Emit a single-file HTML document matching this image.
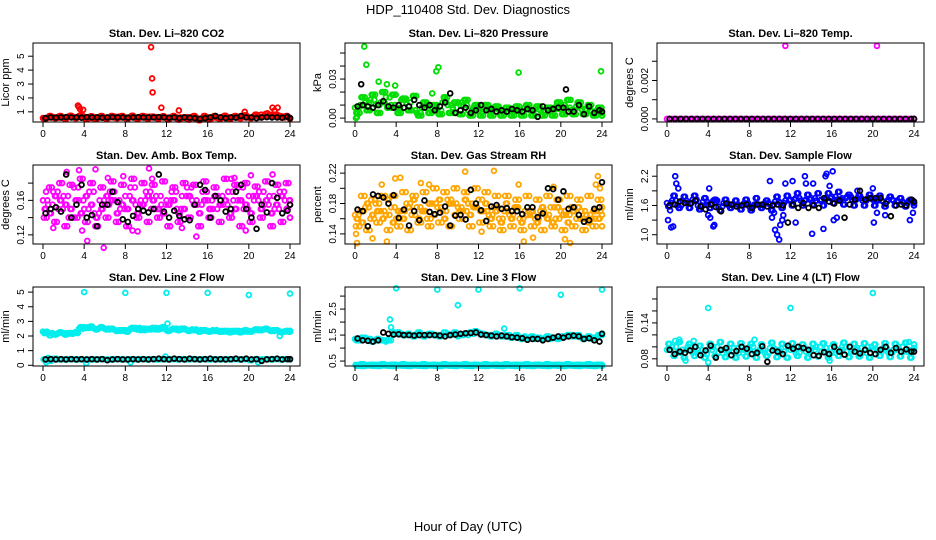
<!DOCTYPE html>
<html><head><meta charset="utf-8"><style>
html,body{margin:0;padding:0;background:#fff}
svg{display:block;font-family:"Liberation Sans",sans-serif}
</style></head><body>
<svg id="chart" width="936" height="540" viewBox="0 0 936 540" xmlns="http://www.w3.org/2000/svg">
<text x="468" y="14" text-anchor="middle" font-size="13">HDP_110408  Std. Dev. Diagnostics</text>
<text x="468" y="531" text-anchor="middle" font-size="13">Hour of Day (UTC)</text>
</svg>
<script>
const xTicks=[0,4,8,12,16,20,24];
// CO2
const co2Red1=[0.55,0.6,0.62,0.58,0.6,0.65,0.6,0.7,0.6,0.55,0.62,0.6,0.58,0.6,0.65,0.6,0.6,0.62,0.58,0.6,0.65,0.6,0.62,0.6,0.58,0.6,0.6,0.55,0.62,0.6,0.5,0.55,0.6,0.58,0.6,0.62,0.6,0.65,0.6,0.62,0.6,0.7,0.65,0.72,0.8,0.7,0.65,0.6,0.55];
const co2Red2=[0.5,0.7,0.55,0.7,0.5,0.72,0.55,0.75,0.5,0.68,0.5,0.7,0.5,0.7,0.55,0.7,0.5,0.72,0.5,0.7,0.5,0.65,0.5,0.68,0.45,0.7,0.45,0.6,0.45,0.7,0.4,0.7,0.45,0.7,0.5,0.72,0.5,0.7,0.55,0.75,0.55,0.8,0.6,0.85,0.7,0.8,0.6,0.7,0.5];
const co2OutX=[3.4,3.5,3.6,3.9,10.5,10.6,10.65,11.5,13.2,19.6,21.2,21.8,22.3,22.5,22.8,23.1];
const co2OutY=[1.45,1.35,1.2,1.15,5.65,3.4,2.4,1.3,1.1,1.0,0.8,0.9,1.3,1.1,1.3,0.7];
const co2Black=[0.55,0.6,0.58,0.6,0.62,0.6,0.6,0.58,0.62,0.6,0.6,0.58,0.6,0.62,0.6,0.6,0.58,0.6,0.62,0.6,0.6,0.6,0.62,0.6,0.58,0.6,0.55,0.6,0.58,0.55,0.5,0.55,0.6,0.7,0.6,0.55,0.6,0.58,0.7,0.6,0.6,0.55,0.6,0.62,0.6,0.6,0.58,0.65,0.55];
// Pressure
const prGreen1=[.008,.01,.012,.014,.01,.012,.016,.01,.008,.014,.012,.006,.004,.008,.01,.008,.006,.012,.01,.008,.012,.01,.006,.008,.005,.007,.006,.008,.006,.005,.007,.006,.005,.008,.006,.007,.006,.005,.008,.007,.01,.008,.006,.009,.007,.006,.005,.006,.004];
const prGreen2=[.004,.016,.006,.018,.004,.02,.008,.018,.004,.015,.006,.017,.002,.012,.004,.01,.003,.016,.004,.012,.003,.014,.002,.01,.002,.01,.002,.009,.002,.008,.002,.009,.002,.01,.002,.009,.002,.008,.002,.012,.003,.014,.003,.012,.003,.01,.002,.008,.002];
const prOutX=[0.2,0.9,1.1,2.3,3.9,4.3,7.9,8.1,15.9,23.9,0.1,3.1,7.5];
const prOutY=[0.001,0.055,0.041,0.028,0.025,0.006,0.036,0.039,0.035,0.036,0.0,0.026,0.019];
const prBlack=[.009,.01,.009,.008,.01,.013,.009,.008,.01,.008,.009,.014,.01,.008,.01,.006,.009,.012,.019,.004,.006,.008,.004,.006,.01,.006,.007,.005,.006,.005,.007,.006,.005,.007,.006,.001,.009,.006,.007,.008,.008,.005,.005,.01,.003,.009,.004,.006,.005];
const prBlackOutX=[0.6,20.5];
const prBlackOutY=[0.026,0.022];
// Li-820 Temp
const tmpMag=[0,0,0,0,0,0,0,0,0,0,0,0,0,0,0,0,0,0,0,0,0,0,0,0,0,0,0,0,0,0,0,0,0,0,0,0,0,0,0,0,0,0,0,0,0,0,0,0,0];
const tmpOutX=[11.5,20.4];
const tmpOutY=[0.0038,0.0038];
const tmpBlack=[0,0,0,0,0,0,0,0,0,0,0,0,0,0,0,0,0,0,0,0,0,0,0,0,0,0,0,0,0,0,0,0,0,0,0,0,0,0,0,0,0,0,0,0,0,0];
// Amb box temp
const ambMag1=[.16,.155,.17,.15,.165,.14,.175,.16,.15,.17,.145,.16,.155,.17,.16,.15,.165,.175,.155,.16,.17,.15,.165,.155,.16,.17,.15,.165,.175,.16,.155,.17,.16,.15,.165,.155,.17,.16,.175,.15,.165,.16,.17,.155,.165,.15,.17,.16,.155];
const ambMag2=[.14,.175,.135,.18,.13,.178,.14,.185,.135,.18,.13,.175,.14,.182,.135,.178,.13,.185,.14,.18,.135,.178,.14,.182,.13,.175,.135,.18,.14,.178,.13,.182,.14,.175,.135,.185,.14,.178,.13,.18,.135,.176,.14,.182,.13,.178,.135,.18,.14];
const ambMag3=[.15,.145,.165,.16,.155,.15,.16,.145,.165,.155,.14,.15,.165,.16,.145,.155,.15,.16,.145,.155,.165,.16,.15,.145,.155,.16,.145,.15,.165,.155,.145,.16,.15,.165,.155,.16,.145,.15,.16,.155,.145,.165,.15,.16,.145,.155,.165,.15,.16];
const ambOutX=[0.3,1,2.3,3.5,4.3,5.1,5.9,7.8,9.2,10.3,14.9,18.3,18.6,20.2,22.3,3.8,6.3,8.7,10.6,13.5,19.7];
const ambOutY=[.17,.128,.193,.195,.113,.196,.105,.188,.124,.197,.118,.185,.186,.189,.19,.125,.186,.125,.185,.128,.125];
const ambBlack=[.145,.15,.152,.147,.19,.14,.155,.178,.14,.143,.13,.155,.155,.17,.158,.138,.135,.142,.15,.148,.146,.15,.19,.147,.14,.148,.142,.138,.137,.155,.178,.172,.14,.165,.16,.147,.15,.17,.178,.15,.14,.127,.155,.146,.18,.163,.145,.148,.155];
// RH
const rhOr1=[.165,.17,.175,.16,.18,.17,.165,.175,.16,.17,.18,.165,.175,.17,.16,.18,.175,.17,.185,.18,.175,.17,.18,.175,.185,.17,.165,.175,.16,.17,.165,.175,.16,.17,.165,.16,.17,.165,.175,.16,.17,.165,.175,.16,.17,.165,.16,.17,.165];
const rhOr2=[.15,.19,.145,.185,.155,.19,.145,.19,.15,.195,.145,.19,.155,.195,.15,.2,.155,.195,.15,.2,.16,.195,.15,.2,.155,.195,.15,.19,.145,.19,.15,.185,.145,.19,.15,.185,.145,.19,.15,.185,.145,.19,.15,.185,.145,.19,.15,.185,.15];
const rhOr3=[.16,.155,.18,.165,.17,.16,.185,.155,.17,.16,.175,.185,.16,.17,.18,.165,.185,.16,.18,.165,.17,.185,.165,.175,.17,.18,.16,.17,.155,.18,.16,.175,.155,.165,.17,.155,.175,.16,.155,.175,.165,.155,.17,.175,.16,.155,.17,.16,.175];
const rhOutX=[0.1,0.2,1.7,2.6,3.1,3.9,4.4,6.4,7.2,10.7,12.3,13.5,15.9,16.4,17.3,19.3,20.4,20.9,23.4,23.6,23.8];
const rhOutY=[.14,.128,.134,.205,.13,.213,.214,.207,.205,.222,.143,.223,.205,.13,.135,.202,.133,.128,.205,.216,.2];
const rhBlack=[.172,.17,.15,.192,.19,.188,.18,.191,.161,.172,.151,.17,.158,.184,.169,.166,.168,.176,.151,.164,.165,.159,.198,.18,.171,.157,.176,.178,.173,.174,.17,.17,.166,.175,.175,.162,.167,.2,.199,.185,.196,.173,.175,.165,.156,.158,.173,.175,.208];
// Sample flow
const sfBlue1=[1.65,1.7,1.6,1.7,1.65,1.72,1.6,1.68,1.62,1.7,1.58,1.65,1.6,1.62,1.6,1.65,1.58,1.62,1.6,1.65,1.62,1.68,1.65,1.7,1.72,1.75,1.7,1.72,1.75,1.7,1.72,1.75,1.78,1.72,1.75,1.78,1.72,1.75,1.7,1.75,1.72,1.7,1.68,1.72,1.7,1.68,1.65,1.7,1.65];
const sfBlue2=[1.58,1.8,1.55,1.78,1.55,1.8,1.52,1.75,1.55,1.72,1.5,1.72,1.55,1.7,1.52,1.72,1.5,1.75,1.55,1.7,1.5,1.78,1.55,1.8,1.6,1.85,1.6,1.82,1.62,1.85,1.6,1.85,1.65,1.88,1.62,1.82,1.6,1.8,1.6,1.82,1.6,1.8,1.58,1.78,1.6,1.75,1.58,1.72,1.6];
const sfOutX=[0.8,0.9,1.1,0.1,0.4,0.6,0.3,4.1,4.5,4.6,4.2,4,10,10.2,10.5,10.7,10.9,11,11.2,11.5,12.2,12.5,13.4,13.5,14.1,14.2,15.2,15.4,15.5,15.8,16.1,16.2,16.5,18.5,20,20.1,20.4,23.6,23.9,11.3,10.4,21.2];
const sfOutY=[2.2,2.05,1.95,1.3,1.15,1.17,1.5,1.95,1.17,1.2,1.35,1.4,2.1,1.35,1.1,1.0,0.9,1.2,1.3,2.05,2.1,1.25,2.2,2.05,1.02,2.05,1.12,2.2,2.25,2.0,2.3,1.3,1.35,1.9,1.95,1.25,1.45,1.3,1.45,1.4,1.45,1.4];
const sfBlack=[1.6,1.62,1.68,1.65,1.64,1.7,1.58,1.52,1.62,1.57,1.48,1.64,1.62,1.58,1.6,1.62,1.55,1.62,1.62,1.58,1.6,1.62,1.6,1.25,1.62,1.55,1.65,1.55,1.6,1.55,1.75,1.68,1.64,1.7,1.35,1.62,1.72,1.9,1.72,1.75,1.75,1.75,1.64,1.38,1.6,1.62,1.6,1.72,1.68];
// Line 2
const l2Cy1=[2.3,2.2,2.15,2.2,2.2,2.15,2.2,2.5,2.6,2.55,2.5,2.55,2.5,2.45,2.4,2.35,2.4,2.5,2.55,2.4,2.5,2.45,2.55,2.5,2.4,2.45,2.5,2.45,2.4,2.45,2.4,2.35,2.35,2.4,2.35,2.3,2.35,2.3,2.35,2.3,2.35,2.4,2.45,2.45,2.4,2.35,2.3,2.3,2.35];
const l2Cy2=[2.2,2.05,2.1,2.25,2.1,2.2,2.25,2.6,2.55,2.65,2.45,2.6,2.45,2.5,2.35,2.4,2.3,2.55,2.45,2.5,2.45,2.55,2.45,2.6,2.35,2.5,2.4,2.5,2.35,2.4,2.3,2.4,2.3,2.35,2.3,2.35,2.25,2.35,2.25,2.4,2.3,2.45,2.4,2.5,2.35,2.4,2.25,2.35,2.3];
const l2Cy3=[0.4,0.3,0.45,0.4,0.4,0.42,0.4,0.4,0.38,0.4,0.4,0.42,0.4,0.4,0.42,0.4,0.4,0.42,0.4,0.42,0.4,0.42,0.4,0.42,0.4,0.42,0.4,0.42,0.4,0.42,0.4,0.42,0.4,0.42,0.4,0.42,0.4,0.42,0.4,0.42,0.35,0.42,0.4,0.42,0.4,0.42,0.4,0.42,0.4];
const l2OutX=[4,8,12,16,20,24,0.3,0.5,12.1,4.2,8.5,11.9,20.9,23];
const l2OutY=[5,4.95,4.95,4.95,4.8,4.9,0.2,0.5,2.85,0.15,0.2,0.6,0.2,2.0];
const l2Black=[0.4,0.42,0.4,0.42,0.4,0.42,0.4,0.42,0.4,0.42,0.4,0.42,0.35,0.4,0.42,0.4,0.4,0.42,0.4,0.42,0.4,0.42,0.45,0.42,0.4,0.45,0.42,0.4,0.45,0.42,0.4,0.42,0.45,0.4,0.42,0.4,0.42,0.45,0.4,0.45,0.4,0.42,0.3,0.4,0.42,0.45,0.4,0.42,0.42];
// Line 3
const l3Cy1=[1.35,1.3,1.4,1.35,1.3,1.3,1.25,1.3,1.55,1.55,1.5,1.5,1.55,1.5,1.5,1.55,1.5,1.5,1.55,1.55,1.45,1.5,1.5,1.55,1.6,1.55,1.5,1.5,1.5,1.45,1.5,1.45,1.4,1.45,1.4,1.35,1.4,1.4,1.35,1.4,1.4,1.45,1.5,1.45,1.4,1.4,1.35,1.4,1.5];
const l3Cy2=[1.3,1.4,1.35,1.25,1.35,1.3,1.3,1.6,1.6,1.5,1.55,1.45,1.6,1.45,1.55,1.5,1.45,1.6,1.5,1.6,1.5,1.55,1.6,1.65,1.55,1.5,1.45,1.55,1.45,1.5,1.4,1.5,1.35,1.4,1.45,1.4,1.35,1.45,1.4,1.35,1.45,1.5,1.45,1.5,1.35,1.45,1.4,1.5,1.55];
const l3Cy3=[0.35,0.38,0.35,0.36,0.35,0.38,0.35,0.36,0.35,0.38,0.35,0.36,0.35,0.38,0.35,0.36,0.35,0.38,0.35,0.36,0.35,0.38,0.35,0.36,0.35,0.38,0.35,0.36,0.35,0.38,0.35,0.36,0.35,0.38,0.35,0.36,0.35,0.38,0.35,0.36,0.35,0.38,0.35,0.36,0.35,0.38,0.35,0.36,0.35];
const l3Cy4=[0.32,0.31,0.33,0.32,0.31,0.33,0.32,0.31,0.33,0.32,0.31,0.33,0.32,0.31,0.33,0.32,0.31,0.33,0.32,0.31,0.33,0.32,0.31,0.33,0.32,0.31,0.33,0.32,0.31,0.33,0.32,0.31,0.33,0.32,0.31,0.33,0.32,0.31,0.33,0.32,0.31,0.33,0.32,0.31,0.33,0.32,0.31,0.33,0.32];
const l3OutX=[4,8,12,16,20,24,10,3.4,3.5,14.5];
const l3OutY=[3.3,3.25,3.25,3.3,3.05,3.25,2.65,2.1,1.8,1.75];
const l3Black=[1.37,1.3,1.28,1.25,1.3,1.6,1.55,1.52,1.53,1.5,1.5,1.48,1.5,1.5,1.5,1.5,1.48,1.45,1.5,1.52,1.55,1.57,1.58,1.6,1.52,1.5,1.48,1.45,1.48,1.45,1.42,1.4,1.38,1.32,1.35,1.35,1.3,1.35,1.4,1.45,1.4,1.45,1.48,1.45,1.35,1.38,1.3,1.25,1.55];
// Line 4
const l4Cy1=[.095,.1,.09,.095,.1,.09,.095,.088,.095,.1,.09,.095,.092,.098,.09,.095,.1,.092,.095,.09,.098,.095,.092,.1,.095,.09,.098,.092,.095,.1,.092,.098,.09,.095,.1,.092,.095,.098,.09,.1,.095,.092,.098,.09,.095,.1,.092,.095,.098];
const l4Cy2=[.105,.085,.108,.082,.105,.085,.102,.082,.105,.085,.108,.083,.105,.082,.106,.084,.105,.082,.104,.085,.107,.083,.105,.082,.106,.085,.104,.082,.105,.084,.106,.082,.104,.085,.107,.083,.105,.084,.106,.082,.104,.085,.106,.083,.105,.084,.107,.082,.104];
const l4OutX=[4,12,20,0.8,1.2,2.6,8.5,1.8,4,15.8,23.5];
const l4OutY=[.165,.165,.19,.11,.112,.11,.112,.077,.074,.077,.108];
const l4Black=[.095,.088,.092,.09,.094,.1,.086,.094,.102,.082,.095,.098,.086,.093,.1,.097,.088,.09,.101,.075,.094,.092,.088,.102,.097,.1,.098,.095,.086,.085,.091,.088,.1,.092,.087,.1,.092,.089,.095,.09,.088,.095,.1,.09,.098,.092,.096,.092,.092];

const NS='http://www.w3.org/2000/svg';
const svg=document.getElementById('chart');
function mk(tag,attrs,parent){const e=document.createElementNS(NS,tag);for(const k in attrs)e.setAttribute(k,attrs[k]);(parent||svg).appendChild(e);return e;}
function seqHours(n){const h=[];for(let i=0;i<n;i++)h.push(i*24/(n-1));return h;}

const panels=[
 {slug:'co2',title:'Stan. Dev. Li\u2013820 CO2',ylab:'Licor ppm',ylim:[0.27,5.95],ticks:[1,2,3,4,5],labels:[[1,'1'],[2,'2'],[3,'3'],[4,'4'],[5,'5']],col:'#ff0000',
  series:[[co2Red1,0],[co2Red2,0.25],[co2Red2,0.5],[co2Red1,0.75]],out:[co2OutX,co2OutY],black:co2Black},
 {slug:'pressure',title:'Stan. Dev. Li\u2013820 Pressure',ylab:'kPa',ylim:[-0.003,0.0577],ticks:[0,.01,.02,.03,.04,.05],labels:[[0,'0.00'],[.03,'0.03']],col:'#00dd00',
  series:[[prGreen1,0],[prGreen2,0.25],[prGreen2,0.5],[prGreen1,0.75],[prGreen2,0.9]],out:[prOutX,prOutY],black:prBlack,bout:[prBlackOutX,prBlackOutY]},
 {slug:'li820-temp',title:'Stan. Dev. Li\u2013820 Temp.',ylab:'degrees C',ylim:[-0.00016,0.00395],ticks:[0,.001,.002,.003],labels:[[0,'0.000'],[.002,'0.002']],col:'#ff00ff',
  series:[[tmpMag,0],[tmpMag,0.5]],out:[tmpOutX,tmpOutY],black:tmpBlack},
 {slug:'amb-box-temp',title:'Stan. Dev. Amb. Box Temp.',ylab:'degrees C',ylim:[0.1094,0.201],ticks:[.12,.14,.16,.18],labels:[[.12,'0.12'],[.16,'0.16']],col:'#ff00ff',
  series:[[ambMag1,0],[ambMag2,0.17],[ambMag3,0.33],[ambMag3,0.55],[ambMag2,0.7],[ambMag1,0.85]],out:[ambOutX,ambOutY],black:ambBlack},
 {slug:'gas-stream-rh',title:'Stan. Dev. Gas Stream RH',ylab:'percent',ylim:[0.1267,0.2307],ticks:[.14,.16,.18,.2,.22],labels:[[.14,'0.14'],[.18,'0.18'],[.22,'0.22']],col:'#ffa500',
  series:[[rhOr1,0],[rhOr2,0.17],[rhOr3,0.33],[rhOr3,0.55],[rhOr1,0.7],[rhOr2,0.85]],out:[rhOutX,rhOutY],black:rhBlack},
 {slug:'sample-flow',title:'Stan. Dev. Sample Flow',ylab:'ml/min',ylim:[0.81,2.43],ticks:[1.0,1.3,1.6,1.9,2.2],labels:[[1.0,'1.0'],[1.6,'1.6'],[2.2,'2.2']],col:'#0000ff',
  series:[[sfBlue1,0],[sfBlue2,0.25],[sfBlue2,0.5],[sfBlue1,0.75]],out:[sfOutX,sfOutY],black:sfBlack},
 {slug:'line2-flow',title:'Stan. Dev. Line 2 Flow',ylab:'ml/min',ylim:[-0.05,5.35],ticks:[0,1,2,3,4,5],labels:[[0,'0'],[1,'1'],[2,'2'],[3,'3'],[4,'4'],[5,'5']],col:'#00eeee',
  series:[[l2Cy1,0],[l2Cy2,0.25],[l2Cy3,0.12],[l2Cy2,0.5],[l2Cy1,0.75],[l2Cy3,0.6]],out:[l2OutX,l2OutY],black:l2Black},
 {slug:'line3-flow',title:'Stan. Dev. Line 3 Flow',ylab:'ml/min',ylim:[0.31,3.35],ticks:[.5,1,1.5,2,2.5,3],labels:[[.5,'0.5'],[1.5,'1.5'],[2.5,'2.5']],col:'#00eeee',
  series:[[l3Cy1,0],[l3Cy2,0.25],[l3Cy3,0.12],[l3Cy4,0.37],[l3Cy3,0.62],[l3Cy4,0.87],[l3Cy2,0.6]],out:[l3OutX,l3OutY],black:l3Black},
 {slug:'line4-flow',title:'Stan. Dev. Line 4 (LT) Flow',ylab:'ml/min',ylim:[0.068,0.2],ticks:[.08,.1,.12,.14,.16,.18],labels:[[.08,'0.08'],[.14,'0.14']],col:'#00eeee',
  series:[[l4Cy1,0],[l4Cy2,0.25],[l4Cy2,0.5],[l4Cy1,0.75]],out:[l4OutX,l4OutY],black:l4Black}
];

panels.forEach((p,i)=>{
  const r=Math.floor(i/3),c=i%3;
  const L=33+312*c,W=267,T=43+122*r,H=79;
  const g=mk('g',{});
  
  
  const xs=v=>L+10+(v/24)*(W-20);
  const ys=v=>T+H-(v-p.ylim[0])/(p.ylim[1]-p.ylim[0])*H;
  const t=mk('text',{x:L+W/2,y:T-6,'text-anchor':'middle','font-size':'11','font-weight':'bold'},g);
  t.textContent=p.title;
  
  
  const yl=mk('text',{x:0,y:0,'text-anchor':'middle','font-size':'11',transform:`translate(${L-24},${T+H/2}) rotate(-90)`},g);
  yl.textContent=p.ylab;
  
  
  const pg=mk('g',{fill:'none','stroke-width':'1.8'},g);
  
  
  p.series.forEach(([vals,off])=>{
    const h=seqHours(vals.length);
    vals.forEach((v,k)=>{
      const x=Math.min(24,h[k]+off*(24/(vals.length-1)));
      const cc=mk('circle',{cx:xs(x),cy:ys(v),r:2.4,stroke:p.col},pg);
      
      
    });
  });
  p.out[0].forEach((x,k)=>{
    const cc=mk('circle',{cx:xs(x),cy:ys(p.out[1][k]),r:2.4,stroke:p.col},pg);
    
    
  });
  const bh=seqHours(p.black.length);
  p.black.forEach((v,k)=>{
    const x=Math.min(24,bh[k]+0.25);
    const cc=mk('circle',{cx:xs(x),cy:ys(v),r:2.4,stroke:'#000'},pg);
    
    
  });
  if(p.bout){p.bout[0].forEach((x,k)=>{
    const cc=mk('circle',{cx:xs(x),cy:ys(p.bout[1][k]),r:2.4,stroke:'#000'},pg);
    
    
  });}
  const b=mk('rect',{x:L,y:T,width:W,height:H,fill:'none',stroke:'#000','stroke-width':'1'},g);
  
  
  xTicks.forEach(v=>{
    mk('line',{x1:xs(v),x2:xs(v),y1:T+H,y2:T+H+5,stroke:'#000'},g);
    const tl=mk('text',{x:xs(v),y:T+H+15,'text-anchor':'middle','font-size':'10'},g);
    tl.textContent=String(v);
    
    
  });
  p.ticks.forEach(v=>{mk('line',{x1:L-5,x2:L,y1:ys(v),y2:ys(v),stroke:'#000'},g);});
  p.labels.forEach(([v,s])=>{
    const tl=mk('text',{x:0,y:0,'text-anchor':'middle','font-size':'10',transform:`translate(${L-9},${ys(v)}) rotate(-90)`},g);
    tl.textContent=s;
    
    
  });
});
</script>
</body></html>
